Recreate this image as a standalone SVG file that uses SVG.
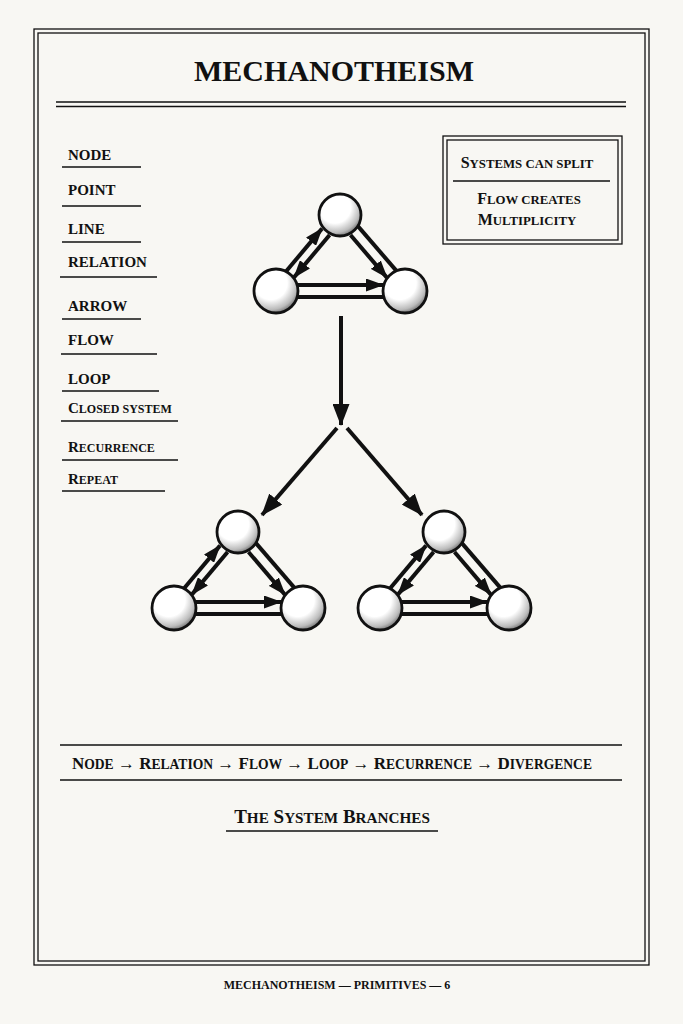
<svg xmlns="http://www.w3.org/2000/svg" xmlns:xlink="http://www.w3.org/1999/xlink" width="683" height="1024" viewBox="0 0 683 1024">
<style>
text{font-family:"Liberation Serif","DejaVu Serif",serif;fill:#111;font-weight:bold}
.lab{font-size:15px}
.s{font-size:0.8em}
.ln{stroke:#111;stroke-width:1.3;fill:none}
.e{stroke:#111;stroke-width:4;fill:none}
.n{fill:url(#sph);stroke:#111;stroke-width:2.8}
</style>
<defs>
<radialGradient id="sph" cx="0.38" cy="0.32" r="0.75">
<stop offset="0.5" stop-color="#fff"/><stop offset="0.8" stop-color="#bbb"/><stop offset="1" stop-color="#555"/>
</radialGradient>
<marker id="ah" markerUnits="userSpaceOnUse" viewBox="0 0 18 13" markerWidth="18" markerHeight="13" refX="17" refY="6.5" orient="auto"><path d="M0,0 L18,6.5 L0,13 z" fill="#111"/></marker>
<marker id="big" markerUnits="userSpaceOnUse" viewBox="0 0 22 17" markerWidth="22" markerHeight="17" refX="21" refY="8.5" orient="auto"><path d="M0,0 L22,8.5 L0,17 z" fill="#111"/></marker>
<g id="tri">
<line class="e" x1="-53.6" y1="56" x2="-18" y2="13.6" marker-end="url(#ah)"/>
<line class="e" x1="-10.4" y1="20" x2="-46" y2="62.4" marker-end="url(#ah)"/>
<line class="e" x1="10" y1="10" x2="60" y2="68" transform="translate(4,-3.4)"/>
<line class="e" x1="10.5" y1="20" x2="46.9" y2="62.6" marker-end="url(#ah)"/>
<line class="e" x1="-42" y1="70" x2="43" y2="70" marker-end="url(#ah)"/>
<line class="e" x1="-60" y1="82" x2="60" y2="82"/>
<circle class="n" cx="0" cy="0" r="21"/>
<circle class="n" cx="-64" cy="76" r="22"/>
<circle class="n" cx="65" cy="76" r="22"/>
</g>
</defs>
<rect width="683" height="1024" fill="#f8f7f3"/>
<rect x="34" y="29" width="615" height="936" class="ln" stroke-width="1.5"/>
<rect x="38" y="33" width="607" height="928" class="ln"/>
<text x="334" y="81" text-anchor="middle" font-size="30">MECHANOTHEISM</text>
<line class="ln" x1="56" y1="102" x2="626" y2="102"/>
<line class="ln" x1="56" y1="106.5" x2="626" y2="106.5"/>
<g id="labels">
<text class="lab" x="68" y="160">NODE</text><line class="ln" x1="62" y1="167" x2="141" y2="167"/>
<text class="lab" x="68" y="195">POINT</text><line class="ln" x1="62" y1="206" x2="141" y2="206"/>
<text class="lab" x="68" y="234">LINE</text><line class="ln" x1="62" y1="242" x2="141" y2="242"/>
<text class="lab" x="68" y="267">RELATION</text><line class="ln" x1="60" y1="277" x2="157" y2="277"/>
<text class="lab" x="68" y="311">ARROW</text><line class="ln" x1="62" y1="319" x2="141" y2="319"/>
<text class="lab" x="68" y="345">FLOW</text><line class="ln" x1="61" y1="354" x2="157" y2="354"/>
<text class="lab" x="68" y="384">LOOP</text><line class="ln" x1="62" y1="391" x2="159" y2="391"/>
<text class="lab" x="68" y="413" font-size="14">C<tspan class="s">LOSED SYSTEM</tspan></text><line class="ln" x1="61" y1="421" x2="178" y2="421"/>
<text class="lab" x="68" y="452">R<tspan class="s">ECURRENCE</tspan></text><line class="ln" x1="62" y1="460" x2="178" y2="460"/>
<text class="lab" x="68" y="484">R<tspan class="s">EPEAT</tspan></text><line class="ln" x1="62" y1="491" x2="165" y2="491"/>
</g>
<g id="note" font-size="16">
<rect x="443" y="136" width="179" height="108" class="ln"/>
<rect x="447" y="140" width="171" height="100" class="ln"/>
<text x="527" y="168" text-anchor="middle" font-size="16">S<tspan class="s">YSTEMS CAN SPLIT</tspan></text>
<line class="ln" x1="453" y1="181" x2="610" y2="181"/>
<text x="529" y="204" text-anchor="middle" font-size="16">F<tspan class="s">LOW CREATES</tspan></text>
<text x="527" y="225" text-anchor="middle" font-size="16">M<tspan class="s">ULTIPLICITY</tspan></text>
</g>
<g id="connectors">
<line class="e" x1="341" y1="316" x2="341" y2="425" marker-end="url(#big)"/>
<line class="e" x1="337" y1="428" x2="262" y2="515" marker-end="url(#big)"/>
<line class="e" x1="347" y1="428" x2="422" y2="515" marker-end="url(#big)"/>
</g>
<g id="system-top"><use xlink:href="#tri" x="340" y="215"/></g>
<g id="system-left"><use xlink:href="#tri" x="238" y="532"/></g>
<g id="system-right"><use xlink:href="#tri" x="444" y="532"/></g>
<g id="sequence">
<line class="ln" x1="60" y1="745" x2="622" y2="745"/>
<line class="ln" x1="60" y1="780" x2="622" y2="780"/>
<text x="72" y="769" font-size="17" textLength="520" lengthAdjust="spacingAndGlyphs">N<tspan class="s">ODE</tspan> → R<tspan class="s">ELATION</tspan> → F<tspan class="s">LOW</tspan> → L<tspan class="s">OOP</tspan> → R<tspan class="s">ECURRENCE</tspan> → D<tspan class="s">IVERGENCE</tspan></text>
<text x="332" y="823" text-anchor="middle" font-size="19">T<tspan class="s">HE</tspan> S<tspan class="s">YSTEM</tspan> B<tspan class="s">RANCHES</tspan></text>
<line class="ln" x1="226" y1="831" x2="438" y2="831"/>
</g>
<text x="337" y="989" text-anchor="middle" font-size="12">MECHANOTHEISM — PRIMITIVES — 6</text>
</svg>
